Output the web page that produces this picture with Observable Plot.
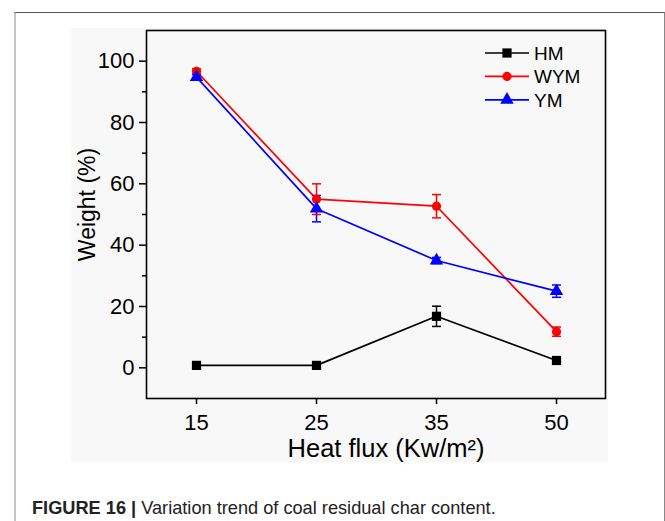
<!DOCTYPE html>
<html><head><meta charset="utf-8">
<script src="https://cdn.jsdelivr.net/npm/d3@7"></script>
<script src="https://cdn.jsdelivr.net/npm/@observablehq/plot@0.6"></script>
<style>
body{margin:0;background:#fff;width:665px;height:521px;overflow:hidden;position:relative;font-family:Arial,"Liberation Sans",sans-serif;}
#frame{position:absolute;left:14px;top:12px;width:648px;height:600px;border-top:1px solid #555;border-left:2px solid #c4c4c4;border-right:1px solid #888;}
#bg{position:absolute;left:71px;top:28px;width:537px;height:434px;background:#f8f8f8;}
#chart{position:absolute;left:0;top:0;}
#caption{position:absolute;left:32px;top:497px;font-size:18.2px;color:#222;white-space:nowrap;line-height:22px;}
</style></head><body>
<div id="frame"></div>
<div id="bg"></div>
<div id="chart"></div>
<div id="caption"><b>FIGURE 16 |</b> Variation trend of coal residual char content.</div>
<script>
const heatFlux = ["15", "25", "35", "50"];
const seriesNames = ["HM", "WYM", "YM"];
const seriesColors = ["#000000", "#ff0000", "#0000ff"];
const seriesSymbols = ["square", "circle", "triangle"];
const hmValues = [0.8, 0.8, 16.8, 2.4];
const hmErrors = [0.4, 0.4, 3.3, 0.8];
const wymValues = [96.7, 55.0, 52.7, 11.8];
const wymErrors = [0.8, 5.0, 3.8, 1.5];
const ymValues = [94.8, 51.9, 35.0, 25.0];
const ymErrors = [0.8, 4.3, 1.0, 2.0];
const yMajorTicks = [0, 20, 40, 60, 80, 100];
const yMinorTicks = [10, 30, 50, 70, 90];

const valueSets = [hmValues, wymValues, ymValues];
const errorSets = [hmErrors, wymErrors, ymErrors];
const data = [];
seriesNames.forEach((s, i) => heatFlux.forEach((f, j) => data.push({series: s, flux: f, value: valueSets[i][j], err: errorSets[i][j]})));

const capSymbol = {draw(ctx, size) { const w = Math.sqrt(size / Math.PI); ctx.moveTo(-w, 0); ctx.lineTo(w, 0); }};
const markerR = {HM: 5.2, WYM: 4.6, YM: 5};
const font = "Arial, 'Liberation Sans', sans-serif";

const marks = [
  Plot.axisY({ticks: yMajorTicks, tickSize: 7, tickPadding: 5, fontSize: 22, label: null, strokeWidth: 1.5}),
  Plot.axisY({ticks: yMinorTicks, tickSize: 4, tickFormat: () => "", label: null, strokeWidth: 1.5}),
  Plot.axisX({tickSize: 6, tickPadding: 10, fontSize: 22, label: null, strokeWidth: 1.5}),
  Plot.frame({stroke: "#000", strokeWidth: 1.6}),
  Plot.text(["Weight (%)"], {frameAnchor: "left", dx: -59, dy: -10, rotate: -90, fontSize: 23, textAnchor: "middle", lineAnchor: "middle"}),
  Plot.text(["Heat flux (Kw/m²)"], {frameAnchor: "bottom", dx: 10, dy: 50, fontSize: 25.5, textAnchor: "middle", lineAnchor: "middle"}),
  Plot.line(data, {x: "flux", y: "value", z: "series", stroke: "series", strokeWidth: 1.7}),
  Plot.ruleX(data, {x: "flux", y1: d => d.value - d.err, y2: d => d.value + d.err, stroke: "series", strokeWidth: 1.5}),
  Plot.dot(data, {x: "flux", y: d => d.value + d.err, symbol: capSymbol, r: 4.5, stroke: "series", strokeWidth: 1.5}),
  Plot.dot(data, {x: "flux", y: d => d.value - d.err, symbol: capSymbol, r: 4.5, stroke: "series", strokeWidth: 1.5})
];
seriesNames.forEach((s, i) => {
  marks.push(Plot.dot(data.filter(d => d.series === s), {x: "flux", y: "value", fill: "series", symbol: () => seriesSymbols[i], r: markerR[s]}));
});

const chart = Plot.plot({
  width: 665, height: 470,
  marginLeft: 146, marginRight: 60, marginTop: 30, marginBottom: 72,
  style: {background: "transparent", fontFamily: font, color: "#000"},
  x: {type: "point", domain: heatFlux, padding: 0.4},
  y: {domain: [-10, 110]},
  color: {domain: seriesNames, range: seriesColors},
  symbol: {domain: seriesSymbols, range: seriesSymbols},
  marks
});
document.getElementById("chart").appendChild(chart);

// legend
const svg = d3.select(chart);
const lg = svg.append("g").attr("text-anchor", "start");
const symMap = {square: d3.symbolSquare, circle: d3.symbolCircle, triangle: d3.symbolTriangle};
seriesNames.forEach((s, i) => {
  const y = 53 + i * 23.4;
  const g = lg.append("g").attr("transform", `translate(0,${y})`);
  g.append("line").attr("x1", 485).attr("x2", 529).attr("y1", 0).attr("y2", 0).attr("stroke", seriesColors[i]).attr("stroke-width", 1.7);
  g.append("path").attr("transform", "translate(507,0)").attr("d", d3.symbol(symMap[seriesSymbols[i]], Math.PI * markerR[s] * markerR[s])()).attr("fill", seriesColors[i]);
  g.append("text").attr("x", 534).attr("y", 0).attr("dy", "0.36em").attr("text-anchor", "start").attr("font-size", 19).attr("font-family", font).attr("fill", "#000").text(s);
});
</script>
</body></html>
